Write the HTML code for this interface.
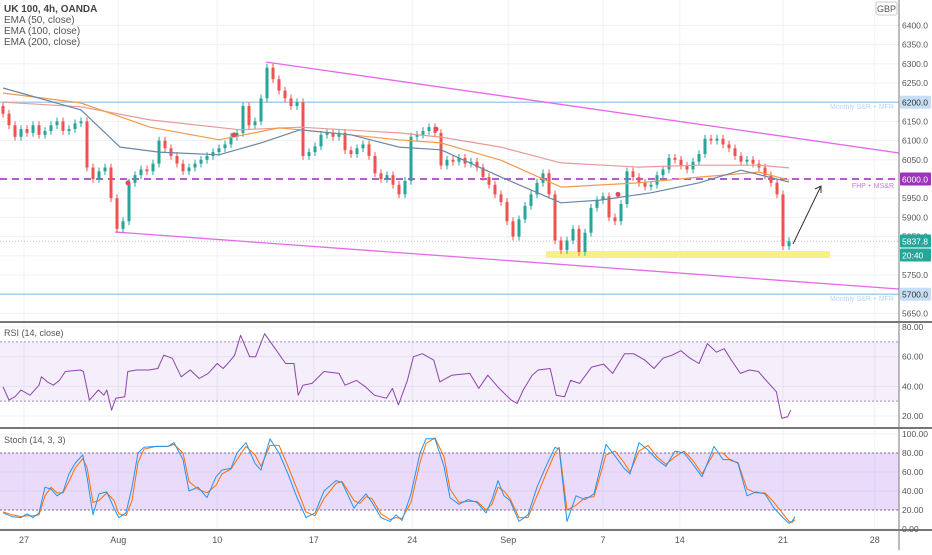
<!DOCTYPE html>
<html><head><meta charset="utf-8">
<style>
html,body{margin:0;padding:0;background:#fff;}
body{width:932px;height:550px;overflow:hidden;font-family:"Liberation Sans",sans-serif;}
svg text{font-family:"Liberation Sans",sans-serif;}
</style></head>
<body>
<svg id="chart" width="932" height="550" viewBox="0 0 932 550" xmlns="http://www.w3.org/2000/svg">
<g id="grid"></g>
<g id="levels"></g>
<g id="main"></g>
<g id="rsi"></g>
<g id="stoch"></g>
<g id="axes"></g>
<text x="4" y="12" font-size="10" font-weight="bold" fill="#444">UK 100, 4h, OANDA</text>
<text x="4" y="23" font-size="10" fill="#555">EMA (50, close)</text>
<text x="4" y="34" font-size="10" fill="#555">EMA (100, close)</text>
<text x="4" y="45" font-size="10" fill="#555">EMA (200, close)</text>
<text x="4" y="336" font-size="9" fill="#555">RSI (14, close)</text>
<text x="4" y="443" font-size="9" fill="#555">Stoch (14, 3, 3)</text>
<rect x="876" y="2" width="21" height="13" rx="2" fill="#fff" stroke="#ccc"/>
<text x="886.5" y="12" font-size="9" fill="#555" text-anchor="middle">GBP</text>
</svg>
<script>
// ---- data ----
const closes = [6170,6140,6110,6130,6120,6140,6115,6125,6140,6150,6125,6130,6145,6150,6030,6000,6020,6030,5950,5870,5890,5990,6010,6025,6020,6040,6100,6080,6060,6040,6020,6030,6040,6050,6060,6070,6080,6090,6110,6120,6190,6140,6150,6210,6290,6260,6230,6210,6190,6200,6060,6070,6085,6115,6120,6110,6120,6075,6065,6080,6090,6060,6015,6000,6010,5985,5960,5995,6110,6115,6125,6135,6120,6035,6050,6045,6055,6040,6045,6030,6005,5985,5960,5940,5890,5850,5895,5930,5960,5990,6015,5960,5840,5815,5840,5870,5810,5860,5925,5945,5955,5900,5890,5935,6020,6005,5990,5980,5985,6010,6025,6055,6050,6035,6025,6045,6065,6105,6100,6105,6090,6080,6060,6045,6050,6040,6030,6010,5990,5960,5825,5838];
const firstOpen = 6190;
const emaT = [0,13,19.5,26,36,43,49.5,58,66,73,83,93,99.5,108,116,123,131];
const ema50 = [6237,6180,6083,6070,6063,6094,6128,6115,6083,6076,6005,5938,5945,5964,5990,6023,5992];
const emaT2 = [0,13,24.5,36,46,49.5,66,73,83,93,106,116,126,131];
const ema100 = [6224,6198,6135,6102,6133,6128,6102,6094,6049,5979,5990,6005,6018,5997];
const emaT3 = [0,13,24.5,39.5,49.5,66,73,83,93,106,116,126,131];
const ema200 = [6200,6188,6154,6128,6135,6120,6109,6083,6042,6031,6036,6036,6029];
const rsiT = [0,1,2,3,4.5,6,6.4,7.4,8.4,9.4,10.4,12.9,13.4,14.4,15.9,16.8,17.3,18.1,18.8,20.3,20.8,22.3,24.3,25.8,26.8,28.2,29.7,31.2,32.7,34.2,35.7,36.7,37.7,38.6,39.6,41.1,42.1,43.6,45.6,47.1,48.5,49.2,50,51.5,53.5,56,57,58.9,60.4,61.9,63.9,64.9,65.9,67.4,68.4,69.9,71.8,72.8,74.8,77.8,79.3,80.8,82.7,84.7,85.7,86.7,88.2,89.2,91.2,92.2,93.6,94.6,96.1,98.1,100.1,101.6,103.6,105.1,107,108.5,110,111.5,113,114.5,116,117.4,118.9,120.2,121.4,122.9,124.4,125.9,126.9,128.4,128.9,129.8,130.8,131.3];
const rsiV = [39.7,30.7,33,37.5,34,40.8,46.4,43,40.8,44,50,51,50,30.7,37.5,34,37.5,24,32,33,50,51,51,52,61,59,46.4,51,45.3,48.7,55.4,52,56.5,61,74.4,60,60,75.5,64,55.4,55.4,34,40.8,42,50,48.7,40.8,44,39.7,34,32,38.6,27.4,44,60,62,57.6,43,47.5,48.7,38.6,47.5,38.6,30.7,28.5,37.5,47.5,51,52,34,33,44,42,53,55,48.7,62,62,57.6,52,59,61,64,59,55.4,68.8,63,65.4,57.6,48.7,51,50,45.3,38.6,36.3,18.4,19.6,24];
const stT = [0,1.5,3,4,5,6,7,8,9,10,11,12,13.3,14,15,16,17.3,18.5,19.3,20.5,21.5,22.5,23.5,25.5,27.5,28.5,30,31,32.5,34,35.5,36.5,38,39,40.5,42,43,44.5,46,47.5,49,50.5,52,53.5,55.5,56.5,58.5,59.5,60.5,61.5,63,64.5,65.5,66.5,68,69.5,70.5,72,73.5,74.5,76,77.5,79,80.5,81.5,82.5,83.5,84.5,86,87.5,89,90.5,92,92.7,94,95.5,97,98.5,100.5,102,103.5,104.5,106,107.5,109,110.5,112,113.5,115,116.5,118.5,120,121.3,122.5,124,125.5,127,128.5,130,131,131.5,132];
const stochK = [17,13,12,16,12,17,44,42,35,39,58,69,78,55,15,37,39,22,12,17,44,80,86,87,87,91,73,40,44,33,55,62,64,80,91,69,62,95,80,58,33,12,17,40,51,49,22,30,37,28,12,8,15,9,37,80,95,95,66,33,26,31,28,17,31,51,35,30,8,15,44,66,86,84,8,35,31,37,89,77,64,58,91,83,73,66,82,80,68,55,87,73,73,69,35,39,37,22,12,6,8,13];
const stochD = [18,15,13,14,14,15,35,44,38,38,50,64,74,65,28,30,38,30,16,14,30,70,84,87,87,89,80,50,42,38,46,58,63,73,87,78,66,88,88,66,42,18,14,32,48,50,30,27,34,32,16,10,12,11,28,70,90,96,76,42,28,29,29,20,26,44,40,32,12,12,35,58,80,86,20,25,33,34,78,82,70,60,82,88,76,68,76,82,72,58,80,80,72,70,42,38,38,28,16,8,7,10];
const priceTicks = [6400,6350,6300,6250,6200,6150,6100,6050,6000,5950,5900,5850,5800,5750,5700,5650];
const rsiTicks = [80,60,40,20];
const stochTicks = [100,80,60,40,20,0];
const dateLabels = ["27","Aug","10","17","24","Sep","7","14","21","28"];
const dateIdx = [3.5,19.2,35.7,51.8,68.2,84.2,100,112.8,130,145.3];

// ---- scales ----
const NS="http://www.w3.org/2000/svg";
const xOf = i => 3 + i*6;
const yP = p => 179 - (p-6000)*0.384;
const yR = v => 416 - (v-20)*1.483;
const yS = v => 529 - v*0.95;
function mk(tag, attrs, parent){const e=document.createElementNS(NS,tag);for(const k in attrs)e.setAttribute(k,attrs[k]);parent.appendChild(e);return e;}
const G=id=>document.getElementById(id);

// grid
dateIdx.forEach((d,i)=>{
  const l=mk('line',{x1:xOf(d),x2:xOf(d),y1:0,y2:530,stroke:'#eef1f6','stroke-width':1},G('grid'));
  
  
});
priceTicks.forEach(p=>{
  const l=mk('line',{x1:0,x2:899,y1:yP(p),y2:yP(p),stroke:'#eef1f6'},G('grid'));
  
  
});
rsiTicks.forEach(v=>{const l=mk('line',{x1:0,x2:899,y1:yR(v),y2:yR(v),stroke:'#eef1f6'},G('grid'));
  
  });
stochTicks.forEach(v=>{const l=mk('line',{x1:0,x2:899,y1:yS(v),y2:yS(v),stroke:'#eef1f6'},G('grid'));
  
  });

// levels
const lv=G('levels');
[[6200,'Monthly S&R + MFR'],[5700,'Monthly S&R + MFR']].forEach(([p,t])=>{
  const l=mk('line',{x1:0,x2:899,y1:yP(p),y2:yP(p),stroke:'#a9cdf0','stroke-width':1.5},lv);
  
  
  const tx=mk('text',{x:894,y:yP(p)+7,'font-size':7,fill:'#b8d6f2','text-anchor':'end'},lv);tx.textContent=t;
  
  
});
const dl=mk('line',{x1:0,x2:899,y1:yP(6000),y2:yP(6000),stroke:'#b45ccd','stroke-width':2,'stroke-dasharray':'7,5'},lv);


const ft=mk('text',{x:894,y:yP(6000)+9,'font-size':7,fill:'#c07ad6','text-anchor':'end'},lv);ft.textContent='FHP + MS&R';


const zone=mk('rect',{x:546,y:251,width:284,height:7,fill:'#f6f184'},lv);


const up=mk('line',{x1:266,y1:62,x2:899,y2:153,stroke:'#e66ae8','stroke-width':1.3},lv);


const lo=mk('line',{x1:115,y1:232,x2:899,y2:289,stroke:'#e66ae8','stroke-width':1.3},lv);


const cp=mk('line',{x1:0,x2:899,y1:yP(5837.8),y2:yP(5837.8),stroke:'#bbb','stroke-dasharray':'1,2'},lv);



// candles
const mn=G('main');
closes.forEach((c,i)=>{
  const o = i===0?firstOpen:closes[i-1];
  const col = c>=o?'#26a69a':'#ef5350';
  const x=xOf(i);
  const w=mk('line',{x1:x,x2:x,y1:yP(Math.max(o,c)+10),y2:yP(Math.min(o,c)-10),stroke:col,'stroke-width':1},mn);
  
  
  const b=mk('rect',{x:x-1.5,y:yP(Math.max(o,c)),width:3,height:Math.max(1,Math.abs(yP(o)-yP(c))),fill:col},mn);
  
  
});
function poly(ts,vs,yf,color,name,parent,w){
  const n=Math.min(ts.length,vs.length);let pts=[];
  for(let i=0;i<n;i++)pts.push(xOf(ts[i]).toFixed(1)+','+yf(vs[i]).toFixed(1));
  const p=mk('polyline',{points:pts.join(' '),fill:'none',stroke:color,'stroke-width':w||1,'stroke-linejoin':'round'},parent);
  
  
}
poly(emaT3,ema200,yP,'#e79a9a','ema200-line',mn,1.2);
poly(emaT2,ema100,yP,'#f39a4a','ema100-line',mn,1.2);
poly(emaT,ema50,yP,'#6a86a8','ema50-line',mn,1.2);
[[128,5990],[234,6115],[436,6130],[618,5960]].forEach(([x,p])=>{
  const d=mk('circle',{cx:x,cy:yP(p),r:2.5,fill:'#e04a5a'},mn);
  
  
});
const ar=mk('path',{d:'M793,244 L821,186 M815,189 L821,186 L821,193',fill:'none',stroke:'#333','stroke-width':1},mn);



// RSI
const rs=G('rsi');
const rb=mk('rect',{x:0,y:yR(70),width:899,height:yR(30)-yR(70),fill:'rgba(155,90,220,0.1)'},rs);


[70,30].forEach(v=>{const l=mk('line',{x1:0,x2:899,y1:yR(v),y2:yR(v),stroke:'#a58bc0','stroke-dasharray':'2,2'},rs);
  
  });
poly(rsiT,rsiV,yR,'#8e44ad','rsi-line',rs,1);

// Stoch
const st=G('stoch');
const sb=mk('rect',{x:0,y:yS(80),width:899,height:yS(20)-yS(80),fill:'rgba(160,90,235,0.22)'},st);


[80,20].forEach(v=>{const l=mk('line',{x1:0,x2:899,y1:yS(v),y2:yS(v),stroke:'#7d6b93','stroke-dasharray':'2,2'},st);
  
  });
poly(stT,stochD,yS,'#ff6d00','stoch-d-line',st,1);
poly(stT,stochK,yS,'#2196f3','stoch-k-line',st,1);

// axes
const ax=G('axes');
const sep=[[0,322,932,322],[0,428,932,428],[0,530,932,530],[899,0,899,550]];
sep.forEach(s=>{const l=mk('line',{x1:s[0],y1:s[1],x2:s[2],y2:s[3],stroke:'#777','stroke-width':s[0]===899?1:2},ax);
  
  });
function lbl(x,y,t,name,size){const e=mk('text',{x:x,y:y,'font-size':size||8.5,fill:'#555'},ax);e.textContent=t;
  
  return e;}
priceTicks.forEach(p=>lbl(902,yP(p)+3,p.toFixed(1),'price-tick'));
rsiTicks.forEach(v=>lbl(902,yR(v)+3,v.toFixed(2),'rsi-tick'));
stochTicks.forEach(v=>lbl(902,yS(v)+3,v.toFixed(2),'stoch-tick'));
dateLabels.forEach((t,i)=>{const e=lbl(xOf(dateIdx[i]),543,t,'date-tick',9);e.setAttribute('text-anchor','middle');});
function tag(y,t,bg,fg,name){
  const r=mk('rect',{x:900,y:y-6.5,width:31,height:13,fill:bg,rx:1},ax);
  
  
  const e=mk('text',{x:902,y:y+3.5,'font-size':8.5,fill:fg},ax);e.textContent=t;
  
  
}
tag(yP(6200),'6200.0','#c6dff5','#333','level-6200-tag');
tag(yP(5700),'5700.0','#c6dff5','#333','level-5700-tag');
tag(yP(6000),'6000.0','#9c33b8','#fff','level-6000-tag');
tag(241,'5837.8','#26a69a','#fff','last-price-tag');
tag(255,'20:40','#26a69a','#fff','countdown-tag');
</script>
</body></html>
